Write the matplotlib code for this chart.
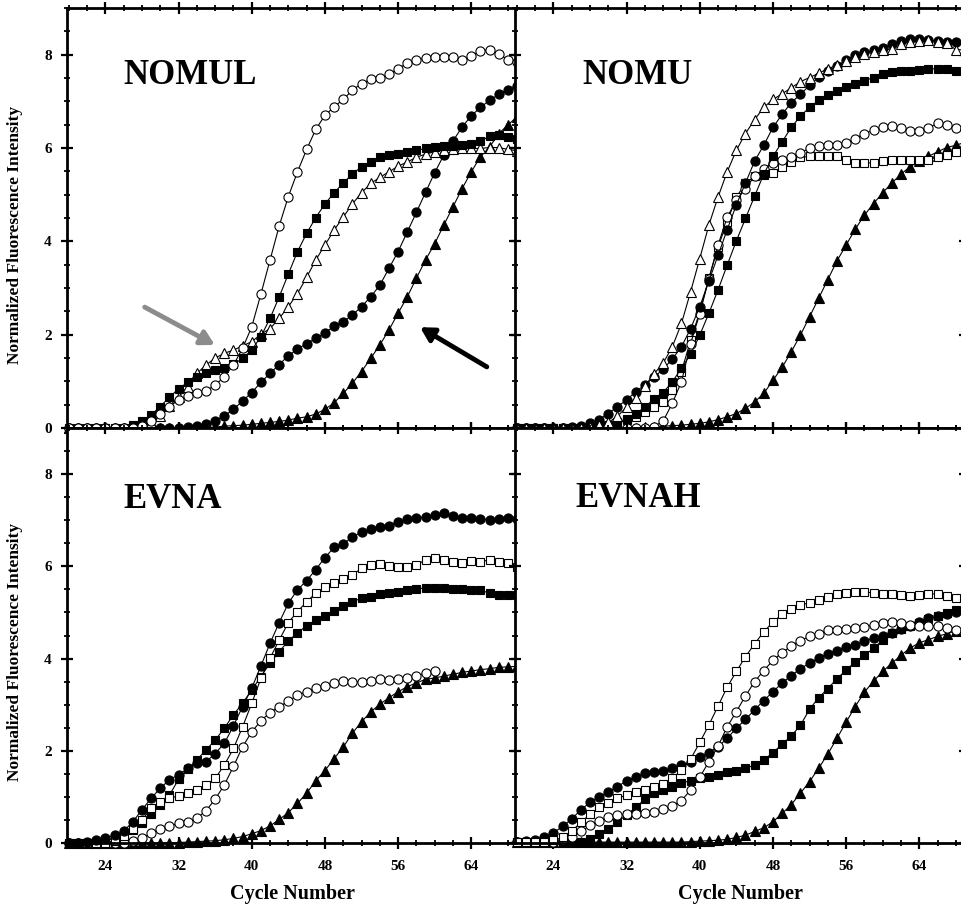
import matplotlib
matplotlib.use('Agg')
import matplotlib.pyplot as plt
from matplotlib.ticker import MultipleLocator

plt.rcParams['font.family'] = ['Liberation Serif', 'DejaVu Serif']
plt.rcParams['font.weight'] = 'bold'

# cycle numbers, one reading per cycle
cycles = list(range(20, 70))

# ---- NOMUL ----
nomul_oc = [0, 0, 0, 0, 0, 0, 0, 0, 0.05, 0.15, 0.30, 0.46, 0.60, 0.69, 0.74, 0.80, 0.92, 1.10, 1.35, 1.71,
            2.17, 2.87, 3.60, 4.33, 4.96, 5.49, 5.97, 6.40, 6.70, 6.88, 7.04, 7.24, 7.38, 7.47, 7.49, 7.58,
            7.70, 7.82, 7.89, 7.92, 7.94, 7.95, 7.95, 7.88, 7.97, 8.08, 8.11, 8.02, 7.89, 7.84]
nomul_fs = [0, 0, 0, 0, 0, 0, 0, 0.06, 0.16, 0.28, 0.46, 0.66, 0.84, 0.98, 1.10, 1.17, 1.24, 1.29, 1.37, 1.49,
            1.67, 1.96, 2.35, 2.81, 3.30, 3.78, 4.17, 4.51, 4.80, 5.04, 5.25, 5.44, 5.60, 5.70, 5.80, 5.85,
            5.88, 5.92, 5.95, 5.99, 6.02, 6.04, 6.04, 6.06, 6.08, 6.15, 6.25, 6.27, 6.24, 6.20]
nomul_ot = [0, 0, 0, 0, 0, 0, 0, 0, 0.02, 0.10, 0.26, 0.47, 0.67, 0.88, 1.17, 1.35, 1.50, 1.60, 1.67, 1.76,
            1.85, 2.01, 2.13, 2.35, 2.60, 2.88, 3.23, 3.60, 3.92, 4.24, 4.52, 4.80, 5.04, 5.24, 5.37, 5.49,
            5.61, 5.70, 5.80, 5.87, 5.92, 5.95, 5.97, 5.99, 5.99, 5.99, 6.01, 6.01, 5.97, 5.94]
nomul_fc = [0, 0, 0, 0, 0, 0, 0, 0, 0, 0, 0, 0, 0, 0.02, 0.04, 0.08, 0.16, 0.26, 0.40, 0.58,
            0.76, 0.98, 1.17, 1.36, 1.55, 1.69, 1.81, 1.92, 2.04, 2.18, 2.28, 2.42, 2.60, 2.81, 3.06, 3.42,
            3.78, 4.20, 4.62, 5.05, 5.47, 5.85, 6.15, 6.45, 6.69, 6.87, 7.02, 7.15, 7.25, 7.32]
nomul_ft = [0, 0, 0, 0, 0, 0, 0, 0, 0, 0, 0, 0, 0, 0, 0.01, 0.01, 0.02, 0.04, 0.05, 0.06,
            0.08, 0.10, 0.12, 0.14, 0.17, 0.21, 0.24, 0.30, 0.40, 0.54, 0.74, 0.96, 1.21, 1.49, 1.78, 2.10,
            2.46, 2.81, 3.21, 3.60, 3.95, 4.35, 4.74, 5.13, 5.49, 5.81, 6.02, 6.31, 6.49, 6.67]

# ---- NOMU ----
nomu_ot = [0, 0, 0, 0, 0, 0, 0, 0, 0.03, 0.07, 0.12, 0.25, 0.45, 0.65, 0.90, 1.16, 1.39, 1.74, 2.24, 2.92,
           3.63, 4.35, 4.95, 5.49, 5.95, 6.31, 6.61, 6.87, 7.04, 7.16, 7.29, 7.42, 7.51, 7.60, 7.70, 7.77,
           7.87, 7.94, 8.01, 8.06, 8.09, 8.13, 8.22, 8.27, 8.29, 8.31, 8.27, 8.24, 8.11, 8.10]
nomu_fc = [0, 0, 0, 0, 0, 0, 0.02, 0.05, 0.10, 0.18, 0.31, 0.46, 0.60, 0.78, 0.92, 1.09, 1.26, 1.48, 1.74, 2.13,
           2.60, 3.15, 3.70, 4.25, 4.78, 5.25, 5.72, 6.06, 6.44, 6.72, 6.97, 7.15, 7.34, 7.52, 7.65, 7.76,
           7.88, 8.00, 8.05, 8.09, 8.15, 8.22, 8.29, 8.34, 8.34, 8.32, 8.29, 8.27, 8.27, 8.27]
nomu_fs = [0, 0, 0, 0, 0, 0, 0, 0, 0.02, 0.04, 0.07, 0.12, 0.20, 0.31, 0.44, 0.63, 0.76, 0.99, 1.28, 1.58,
           1.99, 2.46, 2.96, 3.49, 4.01, 4.49, 4.97, 5.44, 5.82, 6.13, 6.44, 6.68, 6.87, 7.02, 7.13, 7.22,
           7.31, 7.37, 7.44, 7.51, 7.58, 7.63, 7.65, 7.66, 7.67, 7.69, 7.70, 7.70, 7.66, 7.65]
nomu_oc = [0, 0, 0, 0, 0, 0, 0, 0, 0, 0, 0, 0, 0, 0, 0, 0.03, 0.15, 0.53, 0.99, 1.81,
           2.45, 3.20, 3.92, 4.52, 4.88, 5.13, 5.40, 5.55, 5.67, 5.75, 5.81, 5.90, 5.99, 6.04, 6.06, 6.06,
           6.10, 6.20, 6.31, 6.38, 6.44, 6.47, 6.42, 6.36, 6.36, 6.42, 6.54, 6.49, 6.42, 6.40]
nomu_os = [0, 0, 0, 0, 0, 0, 0, 0, 0.01, 0.03, 0.05, 0.10, 0.17, 0.24, 0.35, 0.46, 0.56, 0.81, 1.21, 1.88,
           2.49, 3.21, 3.88, 4.42, 4.95, 5.24, 5.40, 5.43, 5.47, 5.60, 5.70, 5.80, 5.82, 5.83, 5.83, 5.83,
           5.74, 5.68, 5.68, 5.68, 5.72, 5.75, 5.75, 5.74, 5.74, 5.75, 5.80, 5.85, 5.92, 5.95]
nomu_ft = [0, 0, 0, 0, 0, 0, 0, 0, 0, 0, 0, 0, 0, 0, 0.02, 0.03, 0.04, 0.05, 0.06, 0.08,
           0.10, 0.13, 0.18, 0.24, 0.31, 0.42, 0.56, 0.74, 1.02, 1.30, 1.63, 1.99, 2.38, 2.78, 3.18, 3.58,
           3.92, 4.26, 4.56, 4.81, 5.04, 5.25, 5.44, 5.60, 5.72, 5.82, 5.92, 6.01, 6.06, 6.12]

# ---- EVNA ----
evna_fc = [0, 0.01, 0.03, 0.06, 0.10, 0.17, 0.26, 0.46, 0.72, 0.97, 1.19, 1.37, 1.48, 1.62, 1.73, 1.76, 1.94,
           2.16, 2.54, 2.96, 3.36, 3.84, 4.33, 4.78, 5.20, 5.49, 5.69, 5.93, 6.19, 6.41, 6.49, 6.63, 6.75,
           6.80, 6.86, 6.87, 6.97, 7.02, 7.04, 7.08, 7.11, 7.15, 7.09, 7.04, 7.04, 7.03, 7.01, 7.03, 7.04, 7.03]
evna_os = [0, 0, 0, 0, 0, 0.05, 0.15, 0.30, 0.50, 0.75, 0.90, 0.97, 1.02, 1.08, 1.15, 1.26, 1.40,
           1.69, 2.05, 2.52, 3.03, 3.57, 4.01, 4.40, 4.78, 5.02, 5.23, 5.42, 5.55, 5.64, 5.72, 5.81, 5.96,
           6.03, 6.05, 6.01, 5.98, 5.99, 6.03, 6.14, 6.18, 6.14, 6.10, 6.08, 6.12, 6.10, 6.14, 6.10, 6.08, 5.99]
evna_fs = [0, 0, 0.01, 0.03, 0.06, 0.10, 0.18, 0.28, 0.43, 0.62, 0.82, 1.04, 1.38, 1.60, 1.80, 2.02, 2.23,
           2.49, 2.78, 3.03, 3.32, 3.61, 3.90, 4.15, 4.38, 4.56, 4.71, 4.84, 4.92, 5.04, 5.14, 5.23, 5.31,
           5.34, 5.39, 5.43, 5.45, 5.49, 5.50, 5.54, 5.54, 5.53, 5.50, 5.50, 5.49, 5.48, 5.42, 5.38, 5.38, 5.37]
# open circles stop at cycle 60
evna_oc = [0, 0, 0, 0, 0, 0, 0, 0.04, 0.10, 0.21, 0.30, 0.37, 0.43, 0.46, 0.54, 0.70, 0.95,
           1.26, 1.66, 2.09, 2.41, 2.65, 2.83, 2.96, 3.07, 3.21, 3.28, 3.36, 3.41, 3.48, 3.52, 3.50, 3.50,
           3.52, 3.55, 3.53, 3.55, 3.57, 3.62, 3.69, 3.74]
evna_ft = [0, 0, 0, 0, 0, 0, 0, 0, 0, 0, 0, 0, 0.01, 0.02, 0.03, 0.04, 0.05,
           0.07, 0.10, 0.14, 0.20, 0.27, 0.37, 0.51, 0.66, 0.86, 1.08, 1.35, 1.57, 1.83, 2.08, 2.38, 2.63,
           2.84, 3.01, 3.15, 3.28, 3.39, 3.47, 3.55, 3.58, 3.62, 3.66, 3.70, 3.73, 3.76, 3.78, 3.81, 3.82, 3.83]

# ---- EVNAH ----
evnah_os = [0.02, 0.02, 0.03, 0.03, 0.06, 0.12, 0.25, 0.45, 0.62, 0.77, 0.87, 0.97, 1.04, 1.11, 1.15, 1.21,
            1.28, 1.40, 1.58, 1.82, 2.18, 2.56, 2.97, 3.38, 3.72, 4.04, 4.32, 4.58, 4.79, 4.96, 5.08, 5.16,
            5.21, 5.27, 5.34, 5.40, 5.43, 5.45, 5.45, 5.42, 5.40, 5.40, 5.38, 5.36, 5.38, 5.40, 5.40, 5.36,
            5.31, 5.27]
evnah_oc = [0.03, 0.03, 0.03, 0.03, 0.03, 0.06, 0.12, 0.25, 0.38, 0.48, 0.56, 0.61, 0.62, 0.63, 0.66, 0.68,
            0.73, 0.80, 0.92, 1.15, 1.43, 1.76, 2.10, 2.52, 2.85, 3.19, 3.50, 3.74, 3.96, 4.13, 4.27, 4.39,
            4.48, 4.53, 4.61, 4.62, 4.64, 4.66, 4.69, 4.73, 4.77, 4.80, 4.77, 4.73, 4.71, 4.71, 4.71, 4.66,
            4.62, 4.60]
evnah_fc = [0.02, 0.04, 0.06, 0.12, 0.22, 0.36, 0.52, 0.72, 0.88, 1.00, 1.11, 1.22, 1.35, 1.43, 1.51, 1.55,
            1.57, 1.62, 1.69, 1.76, 1.86, 1.96, 2.09, 2.27, 2.49, 2.68, 2.89, 3.09, 3.28, 3.47, 3.63, 3.78,
            3.90, 4.01, 4.10, 4.17, 4.25, 4.30, 4.37, 4.44, 4.49, 4.56, 4.64, 4.71, 4.80, 4.87, 4.92, 4.97,
            5.02, 5.05]
evnah_fs = [0.02, 0.02, 0.02, 0.02, 0.02, 0.02, 0.02, 0.03, 0.08, 0.20, 0.30, 0.46, 0.61, 0.77, 0.95, 1.08,
            1.15, 1.22, 1.30, 1.35, 1.40, 1.44, 1.48, 1.53, 1.57, 1.62, 1.69, 1.80, 1.96, 2.14, 2.32, 2.55,
            2.90, 3.15, 3.35, 3.56, 3.75, 3.93, 4.07, 4.22, 4.40, 4.56, 4.65, 4.71, 4.78, 4.85, 4.92, 4.98,
            5.06, 5.10]
evnah_ft = [0.02, 0.02, 0.02, 0.02, 0.02, 0.02, 0.02, 0.02, 0.02, 0.02, 0.02, 0.02, 0.02, 0.02, 0.02, 0.02,
            0.02, 0.02, 0.02, 0.03, 0.04, 0.05, 0.06, 0.08, 0.12, 0.17, 0.25, 0.33, 0.46, 0.64, 0.83, 1.08,
            1.33, 1.62, 1.93, 2.27, 2.62, 2.96, 3.27, 3.51, 3.72, 3.90, 4.07, 4.23, 4.34, 4.41, 4.48, 4.54,
            4.60, 4.63]

panel_names = ['NOMUL', 'NOMU', 'EVNA', 'EVNAH']

# (values, marker, filled)
panels = [
    [(nomul_ft, '^', True), (nomul_fc, 'o', True), (nomul_ot, '^', False),
     (nomul_fs, 's', True), (nomul_oc, 'o', False)],
    [(nomu_ft, '^', True), (nomu_os, 's', False), (nomu_oc, 'o', False),
     (nomu_fs, 's', True), (nomu_fc, 'o', True), (nomu_ot, '^', False)],
    [(evna_ft, '^', True), (evna_oc, 'o', False), (evna_fs, 's', True),
     (evna_os, 's', False), (evna_fc, 'o', True)],
    [(evnah_ft, '^', True), (evnah_fs, 's', True), (evnah_fc, 'o', True),
     (evnah_oc, 'o', False), (evnah_os, 's', False)],
]

W, H = 961, 908
fig = plt.figure(figsize=(W / 100, H / 100), dpi=100)
aw = 450 / W
boxes = [
    [67 / W, (H - 428) / H, aw, 420 / H],
    [515 / W, (H - 428) / H, aw, 420 / H],
    [67 / W, (H - 843) / H, aw, 415 / H],
    [515 / W, (H - 843) / H, aw, 415 / H],
]
label_pos = [(26.0, 7.55), (27.2, 7.55), (26.0, 7.46), (26.4, 7.47)]

for i, (box, series) in enumerate(zip(boxes, panels)):
    ax = fig.add_axes(box)
    for vals, mk, filled in series:
        ms = 6.6 if mk == 'o' else (6.0 if mk == 's' else 6.8)
        ax.plot(cycles[:len(vals)], vals, color='black', lw=0.8, marker=mk, ms=ms,
                mfc='black' if filled else 'white', mec='black', mew=0.8, clip_on=False)
    ax.set_xlim(19.8, 69.0)
    ax.set_ylim(0, 9)
    ax.xaxis.set_major_locator(MultipleLocator(8))
    ax.xaxis.set_minor_locator(MultipleLocator(2))
    ax.yaxis.set_major_locator(MultipleLocator(2))
    ax.yaxis.set_minor_locator(MultipleLocator(0.5))
    ax.set_xticks([24, 32, 40, 48, 56, 64])
    ax.tick_params(which='both', direction='inout', top=True, right=True, width=1.6,
                   labelsize=11, zorder=5)
    ax.tick_params(which='major', length=8)
    ax.tick_params(which='minor', length=5, width=1.3)
    ax.tick_params(axis='x', pad=8)
    ax.tick_params(axis='y', pad=7)
    for sp in ax.spines.values():
        sp.set_linewidth(2.0)
        sp.set_zorder(6)
    for lab in ax.get_xticklabels() + ax.get_yticklabels():
        lab.set_fontweight('bold')
    if i % 2 == 1:
        ax.tick_params(labelleft=False)
    else:
        ax.set_ylabel('Normalized Fluorescence Intensity', fontsize=12.5, fontweight='bold')
        ax.yaxis.set_label_coords(-0.098, 0.46)
    if i < 2:
        ax.tick_params(labelbottom=False)
    else:
        ax.set_xlabel('Cycle Number', fontsize=14.5, fontweight='bold')
        ax.xaxis.set_label_coords(0.5, -0.1)
    ax.text(label_pos[i][0], label_pos[i][1], panel_names[i], fontsize=25, fontweight='bold',
            ha='left', va='center')
    if i == 0:
        ax.annotate('', xy=(35.96, 1.78), xytext=(28.3, 2.59),
                    arrowprops=dict(arrowstyle='-|>,head_length=0.8,head_width=0.45',
                                    color='#8c8c8c', lw=3.5, shrinkA=0, shrinkB=0))
        ax.annotate('', xy=(58.4, 2.16), xytext=(65.7, 1.31),
                    arrowprops=dict(arrowstyle='-|>,head_length=0.8,head_width=0.45',
                                    color='black', lw=3.5, shrinkA=0, shrinkB=0))

fig.savefig('out.png', dpi=100)
